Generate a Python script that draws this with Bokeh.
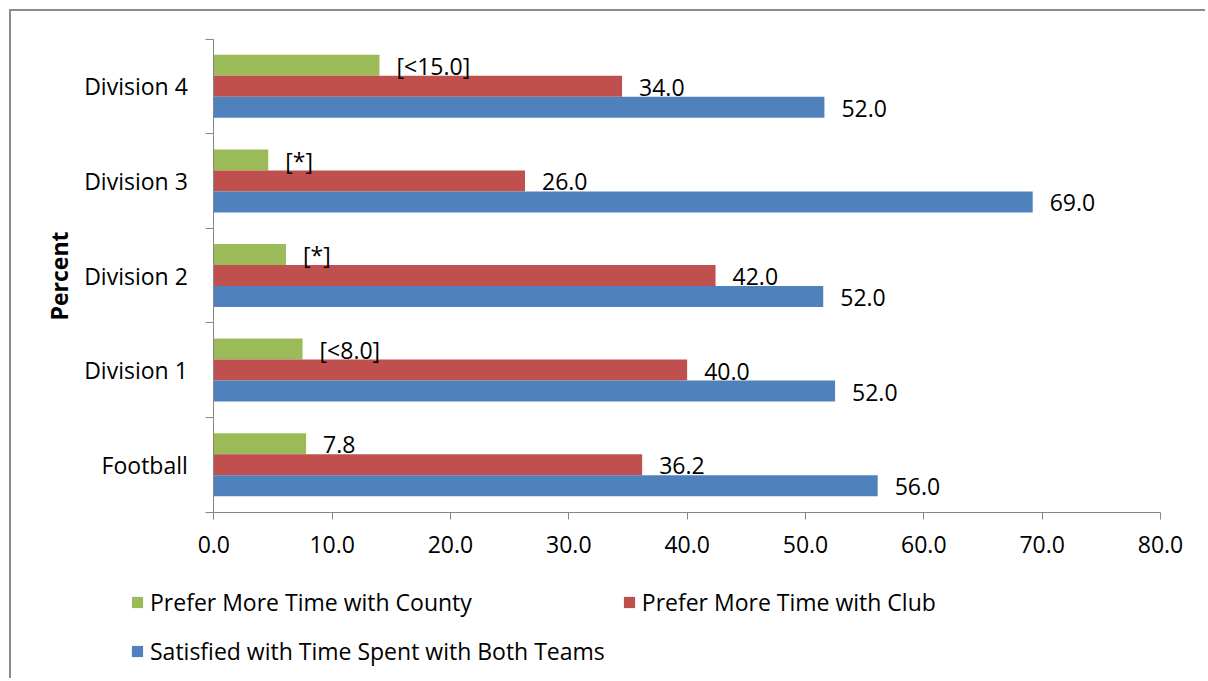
from bokeh.plotting import figure
from bokeh.models import (ColumnDataSource, Range1d, LinearAxis, FixedTicker,
                          NumeralTickFormatter, Legend, LegendItem)
from bokeh.transform import dodge
from bokeh.embed import file_html
from bokeh.resources import INLINE

# ---- data ----
categories = ["Football", "Division 1", "Division 2", "Division 3", "Division 4"]
county = [7.8, 7.5, 6.1, 4.6, 14.0]
club = [36.2, 40.0, 42.4, 26.3, 34.5]
satisfied = [56.1, 52.5, 51.5, 69.2, 51.6]
county_labels = ["7.8", "[<8.0]", "[*]", "[*]", "[<15.0]"]
club_labels = ["36.2", "40.0", "42.0", "26.0", "34.0"]
satisfied_labels = ["56.0", "52.0", "52.0", "69.0", "52.0"]
x_ticks = [0, 10, 20, 30, 40, 50, 60, 70, 80]
series_names = ["Prefer More Time with County", "Prefer More Time with Club",
                "Satisfied with Time Spent with Both Teams"]
colors = ["#9BBB59", "#C0504D", "#4F81BD"]

FONT = "Open Sans"
FS = "23px"
AX = "#868686"

# ---- layout (canvas pixels) ----
W, H = 1196, 669
X0_PX, X1_PX = 202.3, 1149.0     # where x = first / last tick sits
YTOP_PX, YBOT_PX = 27.5, 500.5   # top / bottom of the category bands
n = len(categories)
ux = (X1_PX - X0_PX) / (x_ticks[-1] - x_ticks[0])
uy = (YBOT_PX - YTOP_PX) / n
x_range = Range1d(x_ticks[0] - X0_PX / ux, x_ticks[-1] + (W - X1_PX) / ux)
y_range = Range1d(0 - (H - YBOT_PX) / uy, n + YTOP_PX / uy)

ypos = [i + 0.5 for i in range(n)]  # centre of each category band
src = ColumnDataSource(dict(cat=categories, ypos=ypos, county=county, club=club,
                            satisfied=satisfied, county_lbl=county_labels,
                            club_lbl=club_labels, sat_lbl=satisfied_labels))

p = figure(width=W, height=H, output_backend="svg", toolbar_location=None,
           x_range=x_range, y_range=y_range, x_axis_type=None, y_axis_type=None,
           min_border=0, min_border_left=0, min_border_right=0,
           min_border_top=0, min_border_bottom=0)
p.styles = {"border-left": "2px solid #8c8c8c", "border-top": "2px solid #8c8c8c",
            "margin-left": "9px", "margin-top": "9px"}
p.outline_line_color = None
p.background_fill_color = "white"
p.border_fill_color = "white"

bw = 0.222
offs = [bw, 0.0, -bw]
fields = ["county", "club", "satisfied"]
lbls = ["county_lbl", "club_lbl", "sat_lbl"]
renderers = []
for f, off, c in zip(fields, offs, colors):
    r = p.hbar(y=dodge("ypos", off), left=0, right=f, height=bw,
               source=src, fill_color=c, line_color=None)
    renderers.append(r)
for f, lf, off in zip(fields, lbls, offs):
    p.text(x=f, y=dodge("ypos", off), text=lf, source=src,
           x_offset=17, y_offset=1, text_baseline="middle", text_align="left",
           text_font={"value": FONT}, text_font_size=FS, text_color="black")

# x axis (drawn at y = 0)
xa = LinearAxis(ticker=FixedTicker(ticks=x_ticks), formatter=NumeralTickFormatter(format="0.0"),
                fixed_location=0, bounds=(x_ticks[0], x_ticks[-1]))
xa.axis_line_color = AX
xa.major_tick_line_color = AX
xa.major_tick_out = 7
xa.major_tick_in = 0
xa.minor_tick_out = 0
xa.minor_tick_in = 0
xa.major_label_standoff = 17
xa.major_label_text_font = FONT
xa.major_label_text_font_size = FS
xa.major_label_text_color = "black"
p.add_layout(xa, "below")

# y axis (drawn at x = 0): labels centred on categories, ticks on category boundaries
ya = LinearAxis(ticker=FixedTicker(ticks=ypos, minor_ticks=[float(i) for i in range(n + 1)]),
                major_label_overrides={y: c for y, c in zip(ypos, categories)},
                axis_label="Percent", fixed_location=0, bounds=(0, n))
ya.axis_line_color = AX
ya.major_tick_out = 0
ya.major_tick_in = 0
ya.minor_tick_out = 8
ya.minor_tick_in = 0
ya.minor_tick_line_color = AX
ya.major_label_standoff = 18
ya.major_label_text_font = FONT
ya.major_label_text_font_size = FS
ya.major_label_text_color = "black"
ya.axis_label_text_font = FONT
ya.axis_label_text_font_size = "23px"
ya.axis_label_text_font_style = "bold"
ya.axis_label_text_color = "black"
ya.axis_label_standoff = 6
p.add_layout(ya, "left")

legend = Legend(items=[LegendItem(label=nm, renderers=[r]) for nm, r in zip(series_names, renderers)],
                location=(119, 13), orientation="horizontal", ncols=2,
                padding=0, margin=0, border_line_color=None, background_fill_alpha=0,
                label_text_font=FONT, label_text_font_size=FS, label_text_color="black",
                glyph_width=14, glyph_height=14, label_standoff=6, spacing=17,
                label_height=30, label_width=454)
p.add_layout(legend)

open("out.html", "w").write(file_html(p, INLINE))
